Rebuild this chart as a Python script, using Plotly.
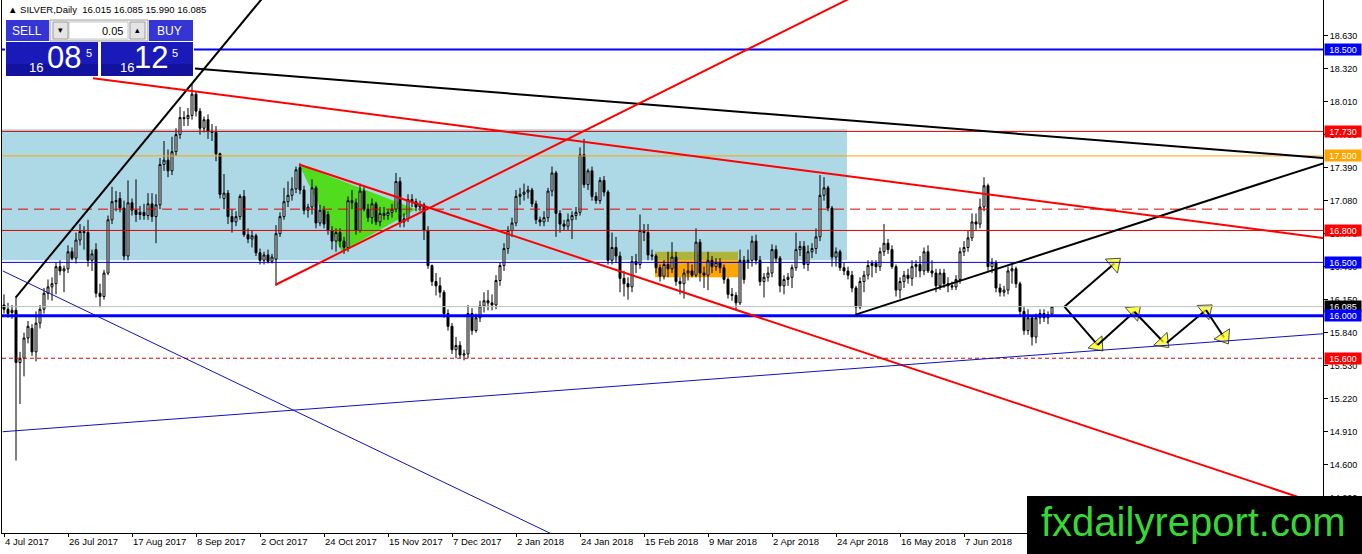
import plotly.graph_objects as go

# ---------------- data ----------------
opens = [
 16.10,16.06,16.03,16.05,15.56,15.60,15.79,15.88,15.66,15.93,
 16.06,16.21,16.27,16.30,16.46,16.42,16.44,16.60,16.54,16.71,
 16.79,16.78,16.52,16.62,16.21,16.18,16.40,16.90,17.07,17.10,
 17.01,16.56,17.06,16.99,16.95,16.97,16.94,17.05,16.93,17.04,
 17.42,17.46,17.36,17.54,17.70,17.86,17.85,17.88,18.08,17.92,
 17.76,17.84,17.73,17.72,17.52,17.10,17.15,16.93,16.88,16.93,
 17.12,16.76,16.72,16.75,16.59,16.52,16.57,16.51,16.53,16.77,
 16.93,17.07,17.13,17.19,17.39,17.18,16.99,17.02,17.20,16.87,
 16.99,16.95,16.80,16.70,16.78,16.70,16.64,17.08,17.06,16.80,
 17.17,17.00,16.92,17.05,16.88,16.96,16.94,16.97,17.00,17.26,
 16.88,16.91,17.09,17.07,17.02,17.04,16.80,16.47,16.32,16.28,
 16.22,16.02,15.90,15.68,15.72,15.63,15.64,16.02,15.86,15.98,
 16.09,16.14,16.12,16.10,16.33,16.47,16.63,16.80,16.87,17.12,
 17.14,17.16,17.18,17.05,16.90,16.88,16.92,17.17,17.34,16.96,
 16.86,16.84,16.90,16.94,16.97,17.51,17.23,17.36,17.12,17.08,
 17.27,17.16,16.52,16.64,16.56,16.35,16.30,16.27,16.51,16.48,
 16.80,16.78,16.57,16.56,16.45,16.37,16.48,16.44,16.55,16.32,
 16.30,16.40,16.42,16.38,16.69,16.40,16.38,16.52,16.46,16.50,
 16.45,16.34,16.20,16.19,16.12,16.52,16.50,16.52,16.70,16.52,
 16.32,16.36,16.40,16.62,16.54,16.28,16.34,16.36,16.45,16.62,
 16.65,16.48,16.60,16.63,16.74,17.13,17.20,17.01,16.55,16.60,
 16.45,16.42,16.38,16.26,16.08,16.32,16.38,16.47,16.49,16.46,
 16.60,16.68,16.62,16.46,16.24,16.32,16.38,16.35,16.46,16.48,
 16.42,16.60,16.42,16.40,16.28,16.40,16.30,16.28,16.27,16.34,
 16.60,16.64,16.73,16.88,16.86,17.02,17.22,16.46,16.50,16.26,
 16.22,16.24,16.42,16.44,16.30,16.04,15.86,15.98,15.80,15.98,
 16.02,15.98,16.015]
highs = [
 16.20,16.12,16.10,16.17,15.66,15.84,15.95,15.92,16.04,16.10,
 16.26,16.34,16.36,16.50,16.52,16.47,16.66,16.64,16.78,16.86,
 16.84,16.90,16.62,16.68,16.30,16.43,16.94,17.21,17.17,17.16,
 17.08,17.27,17.10,17.28,17.03,17.05,17.15,17.15,17.14,17.48,
 17.64,17.56,17.68,17.76,17.96,17.92,17.95,18.18,18.10,17.95,
 17.87,17.89,17.80,17.78,17.53,17.33,17.18,17.00,16.98,17.14,
 17.18,16.82,16.80,16.77,16.63,16.60,16.62,16.58,16.85,16.97,
 17.20,17.26,17.30,17.40,17.43,17.22,17.05,17.28,17.22,17.04,
 17.03,16.98,16.84,16.82,16.82,16.74,17.12,17.18,17.10,17.24,
 17.21,17.05,17.10,17.07,17.02,17.02,17.00,17.05,17.34,17.30,
 16.96,17.14,17.14,17.10,17.08,17.06,16.84,16.48,16.40,16.36,
 16.24,16.06,15.93,15.80,15.76,15.68,16.10,16.07,16.02,16.14,
 16.22,16.24,16.20,16.38,16.50,16.68,16.84,16.92,17.18,17.20,
 17.24,17.22,17.20,17.08,16.93,16.98,17.20,17.40,17.36,16.99,
 16.90,16.96,16.98,17.02,17.58,17.66,17.38,17.40,17.16,17.30,
 17.31,17.18,16.78,16.74,16.60,16.42,16.36,16.56,16.58,16.95,
 16.86,16.86,16.62,16.58,16.48,16.52,16.60,16.69,16.60,16.36,
 16.44,16.50,16.48,16.82,16.72,16.46,16.60,16.56,16.54,16.54,
 16.48,16.36,16.26,16.22,16.62,16.56,16.62,16.75,16.76,16.56,
 16.40,16.46,16.67,16.66,16.56,16.38,16.40,16.48,16.78,16.70,
 16.70,16.66,16.68,16.82,17.32,17.30,17.22,17.03,16.64,16.62,
 16.50,16.46,16.42,16.28,16.36,16.42,16.52,16.52,16.52,16.64,
 16.86,16.72,16.66,16.48,16.36,16.42,16.44,16.52,16.52,16.56,
 16.64,16.66,16.52,16.44,16.44,16.44,16.36,16.32,16.38,16.64,
 16.70,16.80,16.96,16.96,17.10,17.30,17.24,16.54,16.52,16.30,
 16.28,16.46,16.50,16.46,16.32,16.08,16.06,16.00,16.02,16.06,
 16.06,16.04,16.085]
lows = [
 16.02,15.98,15.97,14.64,15.17,15.43,15.74,15.62,15.57,15.88,
 16.02,16.15,16.14,16.20,16.38,16.22,16.40,16.52,16.49,16.66,
 16.62,16.46,16.42,16.17,16.08,16.15,16.38,16.86,16.98,16.97,
 16.52,16.52,16.94,16.88,16.90,16.90,16.90,16.88,16.68,17.00,
 17.36,17.30,17.32,17.50,17.66,17.78,17.78,17.84,17.87,17.70,
 17.72,17.66,17.64,17.45,17.10,17.00,16.86,16.78,16.84,16.90,
 16.74,16.68,16.64,16.56,16.48,16.48,16.49,16.49,16.28,16.74,
 16.90,17.02,17.08,17.15,17.14,16.95,16.92,16.95,16.82,16.84,
 16.82,16.76,16.62,16.60,16.64,16.58,16.60,17.00,16.76,16.78,
 16.98,16.88,16.86,16.85,16.84,16.90,16.90,16.92,16.97,16.83,
 16.83,16.88,17.02,16.98,16.98,16.71,16.44,16.28,16.19,16.17,
 15.98,15.86,15.64,15.60,15.60,15.58,15.60,15.82,15.84,15.94,
 16.03,16.05,16.05,16.06,16.28,16.42,16.58,16.74,16.84,17.04,
 17.08,17.10,17.02,16.86,16.84,16.84,16.88,17.12,16.74,16.78,
 16.80,16.80,16.72,16.90,16.94,17.20,17.18,17.08,17.05,17.05,
 17.12,16.48,16.48,16.50,16.22,16.18,16.15,16.22,16.40,16.44,
 16.70,16.52,16.52,16.40,16.32,16.34,16.36,16.40,16.28,16.20,
 16.16,16.33,16.36,16.36,16.32,16.26,16.24,16.40,16.42,16.40,
 16.30,16.16,16.14,16.06,16.10,16.30,16.44,16.46,16.48,16.28,
 16.17,16.32,16.36,16.50,16.22,16.20,16.28,16.26,16.42,16.56,
 16.44,16.42,16.54,16.58,16.70,17.08,16.98,16.46,16.46,16.42,
 16.38,16.34,16.22,15.99,16.06,16.22,16.34,16.36,16.40,16.42,
 16.56,16.58,16.44,16.18,16.16,16.26,16.30,16.28,16.36,16.36,
 16.38,16.40,16.36,16.22,16.24,16.26,16.22,16.24,16.24,16.30,
 16.56,16.60,16.70,16.80,16.82,16.98,16.42,16.40,16.22,16.18,
 16.18,16.20,16.30,16.26,16.00,15.82,15.82,15.72,15.74,15.92,
 15.94,15.92,15.990]
closes = [
 16.06,16.02,16.05,15.56,15.60,15.79,15.90,15.66,15.93,16.06,
 16.21,16.27,16.30,16.46,16.42,16.44,16.60,16.54,16.71,16.79,
 16.78,16.52,16.58,16.21,16.18,16.40,16.90,17.07,17.08,17.01,
 16.56,17.06,16.99,16.95,16.97,16.94,17.05,16.93,17.04,17.42,
 17.46,17.36,17.54,17.70,17.86,17.85,17.88,18.08,17.92,17.76,
 17.84,17.73,17.72,17.52,17.14,17.15,16.93,16.88,16.93,17.12,
 16.76,16.72,16.75,16.59,16.52,16.57,16.51,16.55,16.77,16.93,
 17.07,17.13,17.19,17.37,17.18,16.99,17.02,17.20,16.87,16.99,
 16.86,16.80,16.70,16.78,16.70,16.64,17.08,17.06,16.80,17.17,
 17.00,16.92,17.05,16.88,16.96,16.94,16.97,17.00,17.26,16.88,
 16.91,17.09,17.07,17.02,17.04,16.80,16.47,16.32,16.28,16.22,
 16.02,15.90,15.68,15.72,15.63,15.64,16.02,15.86,15.98,16.09,
 16.14,16.12,16.10,16.33,16.47,16.63,16.80,16.87,17.12,17.14,
 17.16,17.18,17.05,16.90,16.88,16.92,17.17,17.34,16.96,16.86,
 16.84,16.90,16.94,16.97,17.51,17.23,17.36,17.12,17.08,17.27,
 17.16,16.52,16.64,16.56,16.35,16.30,16.27,16.51,16.48,16.80,
 16.78,16.57,16.56,16.45,16.37,16.48,16.44,16.55,16.32,16.30,
 16.40,16.42,16.38,16.69,16.40,16.38,16.52,16.46,16.50,16.45,
 16.34,16.20,16.19,16.12,16.52,16.34,16.52,16.70,16.52,16.32,
 16.36,16.40,16.62,16.54,16.28,16.34,16.36,16.45,16.62,16.65,
 16.48,16.60,16.63,16.74,17.13,17.20,17.01,16.55,16.60,16.45,
 16.42,16.38,16.26,16.08,16.32,16.38,16.47,16.49,16.46,16.60,
 16.68,16.62,16.46,16.24,16.32,16.38,16.35,16.46,16.48,16.42,
 16.60,16.42,16.40,16.28,16.40,16.30,16.28,16.27,16.34,16.60,
 16.64,16.73,16.88,16.86,17.02,17.22,16.46,16.50,16.26,16.22,
 16.24,16.42,16.44,16.30,16.04,15.86,15.98,15.80,15.98,16.02,
 15.98,16.01,16.085]
bars = list(range(len(closes)))

tick_bars = [0, 16, 32, 48, 64, 80, 96, 112, 128, 144, 160, 176, 192, 208, 224, 240]
tick_labels = ["4 Jul 2017", "26 Jul 2017", "17 Aug 2017", "8 Sep 2017", "2 Oct 2017",
               "24 Oct 2017", "15 Nov 2017", "7 Dec 2017", "2 Jan 2018", "24 Jan 2018",
               "15 Feb 2018", "9 Mar 2018", "2 Apr 2018", "24 Apr 2018", "16 May 2018",
               "7 Jun 2018"]
price_ticks = [14.290, 14.600, 14.910, 15.220, 15.530, 15.840, 16.150, 16.460,
               16.770, 17.080, 17.390, 17.700, 18.010, 18.320, 18.630]

# horizontal levels
level_prices = [18.500, 17.730, 17.500, 17.000, 16.800, 16.500, 16.085, 16.000, 15.600]
labeled_levels = [18.500, 17.730, 17.500, 16.800, 16.500, 16.085, 16.000, 15.600]

# trend lines: start bar, start price, end bar, end price
trend_bar0 = [2.9, 47.75, 212.9, 22.25, 67.9, 73.75, -0.33, -0.33]
trend_p0 = [16.17, 18.32, 16.01, 18.23, 16.29, 17.42, 16.42, 14.91]
trend_bar1 = [71.6, 329.75, 329.75, 329.75, 228.6, 329.75, 139.7, 329.75]
trend_p1 = [19.30, 17.48, 17.43, 16.73, 19.30, 14.22, 13.90, 15.83]

# zones
zone_bars = [-5, 210.75]
zone_prices = [16.52, 17.75]
triangle_bars = [73.75, 84.4, 103.0]
triangle_prices = [17.42, 16.60, 17.00]
box_bars = [162.75, 183.5]
box_prices = [16.36, 16.52, 16.60]

# forecast zig-zag arrows (start/end bar & price)
arrow_bar0 = [265.1, 265.1, 273.4, 282.6, 290.7, 300.5]
arrow_p0 = [16.084, 16.084, 15.725, 16.037, 15.746, 16.053]
arrow_bar1 = [277.6, 273.4, 282.6, 289.8, 300.5, 305.0]
arrow_p1 = [16.49, 15.725, 16.037, 15.755, 16.053, 15.797]

# ---------------- styles ----------------
FONT = "Liberation Sans, Arial, sans-serif"
L, T, PW, PH = 2, 0, 1321, 533


def pp(x, y):
    return (x - L) / PW, 1 - (y - T) / PH


level_style = {
    18.500: dict(color="#0000FF", width=2, dash="solid"),
    17.730: dict(color="#E00000", width=1, dash="solid"),
    17.500: dict(color="#FFA500", width=1, dash="solid"),
    17.000: dict(color="#E00000", width=1, dash="10px,6px"),
    16.800: dict(color="#E00000", width=1, dash="solid"),
    16.500: dict(color="#0000FF", width=1, dash="solid"),
    16.085: dict(color="#C0C0C0", width=1, dash="solid"),
    16.000: dict(color="#0000FF", width=3, dash="solid"),
    15.600: dict(color="#E00000", width=1, dash="4px,3px"),
}
label_bg = {18.500: "#0000FF", 17.730: "#FF0000", 17.500: "#FFA500", 16.800: "#FF0000",
            16.500: "#0000FF", 16.085: "#000000", 16.000: "#0000FF", 15.600: "#FF0000"}
trend_style = [("#000000", 2), ("#000000", 2), ("#000000", 2), ("#FF0000", 2),
               ("#FF0000", 2), ("#FF0000", 2), ("#1010C0", 1), ("#1010C0", 1)]

fig = go.Figure()

fig.add_trace(go.Candlestick(
    x=bars, open=opens, high=highs, low=lows, close=closes,
    increasing=dict(line=dict(color="black", width=1), fillcolor="white"),
    decreasing=dict(line=dict(color="black", width=1), fillcolor="black"),
    whiskerwidth=0, showlegend=False, hoverinfo="skip"))

for b0, p0, b1, p1 in zip(arrow_bar0, arrow_p0, arrow_bar1, arrow_p1):
    fig.add_trace(go.Scatter(
        x=[b0, b1], y=[p0, p1], mode="lines+markers",
        line=dict(color="black", width=2),
        marker=dict(symbol="triangle-up", size=[0, 16], color="#FFFF00",
                    line=dict(color="black", width=1), angleref="previous"),
        showlegend=False, hoverinfo="skip"))

shapes = []
# background zones
shapes.append(dict(type="rect", xref="x", yref="y", x0=zone_bars[0], x1=zone_bars[1],
                   y0=zone_prices[0], y1=zone_prices[1], fillcolor="#ADD8E6",
                   line=dict(width=0), layer="below"))
tri = "M {} {} L {} {} L {} {} Z".format(triangle_bars[0], triangle_prices[0],
                                         triangle_bars[1], triangle_prices[1],
                                         triangle_bars[2], triangle_prices[2])
shapes.append(dict(type="path", xref="x", yref="y", path=tri, fillcolor="#52DC1E",
                   line=dict(width=0), layer="below"))
shapes.append(dict(type="rect", xref="x", yref="y", x0=box_bars[0], x1=box_bars[1],
                   y0=box_prices[1], y1=box_prices[2], fillcolor="#AEB43A",
                   line=dict(width=0), layer="below"))
shapes.append(dict(type="rect", xref="x", yref="y", x0=box_bars[0], x1=box_bars[1],
                   y0=box_prices[0], y1=box_prices[1], fillcolor="#FFA500",
                   line=dict(width=0), layer="below"))

# horizontal levels
for p in level_prices:
    st = level_style[p]
    shapes.append(dict(type="line", xref="paper", yref="y", x0=0, x1=1, y0=p, y1=p,
                       line=dict(color=st["color"], width=st["width"], dash=st["dash"]),
                       layer="above"))

# trend lines
for (b0, p0, b1, p1), (c, w) in zip(zip(trend_bar0, trend_p0, trend_bar1, trend_p1), trend_style):
    shapes.append(dict(type="line", xref="x", yref="y", x0=b0, y0=p0, x1=b1, y1=p1,
                       line=dict(color=c, width=w), layer="above"))


def prect(x0, y0, x1, y1, fill, line_color=None, lw=0):
    a0, b0 = pp(x0, y1)
    a1, b1 = pp(x1, y0)
    return dict(type="rect", xref="paper", yref="paper", x0=a0, y0=b0, x1=a1, y1=b1,
                fillcolor=fill, line=dict(color=line_color or fill, width=lw), layer="above")


# trading panel
shapes += [
    prect(5, 19, 194, 77, "#FFFFFF"),
    prect(6, 20, 49, 41, "#3535D6"),
    prect(50, 20, 148, 41, "#F0F0F0", "#A0A0A0", 1),
    prect(69, 22, 128, 39, "#FFFFFF", "#C8C8C8", 1),
    prect(53, 22, 68, 39, "#E4E4E4", "#A0A0A0", 1),
    prect(130, 22, 145, 39, "#E4E4E4", "#A0A0A0", 1),
    prect(149, 20, 193, 41, "#3535D6"),
    prect(6, 42, 98, 76, "#1A1AB8"),
    prect(101, 42, 193, 76, "#1A1AB8"),
    prect(6, 64, 98, 76, "#12129E"),
    prect(101, 64, 193, 76, "#12129E"),
]
# watermark
shapes.append(prect(1027, 496, 1362, 554, "#000000"))

annotations = []


def ptext(x, y, text, size, color, xanchor="center", yanchor="middle", family=FONT):
    a, b = pp(x, y)
    annotations.append(dict(xref="paper", yref="paper", x=a, y=b, text=text,
                            showarrow=False, xanchor=xanchor, yanchor=yanchor,
                            font=dict(family=family, size=size, color=color)))


ptext(6, 9, "\u25B2 SILVER,Daily  {:.3f} {:.3f} {:.3f} {:.3f}".format(
    opens[-1], highs[-1], lows[-1], closes[-1]), 9.5, "black", xanchor="left")
ptext(27, 31, "SELL", 12, "white")
ptext(169, 31, "BUY", 12, "white")
ptext(125, 31, "0.05", 11, "black", xanchor="right")
ptext(60.5, 30.5, "\u25BE", 9, "black")
ptext(137.5, 30.5, "\u25B4", 9, "black")
ptext(35.5, 67, "16", 13, "white")
ptext(64, 58, "08", 31, "white")
ptext(88.5, 53, "5", 11, "white")
ptext(127, 67, "16", 13, "white")
ptext(151, 58, "12", 31, "white")
ptext(175, 53, "5", 11, "white")
ptext(1193, 522, "fxdailyreport.com", 40, "#37D737")

for p in labeled_levels:
    annotations.append(dict(xref="paper", yref="y", x=1, y=p, xanchor="left",
                            yanchor="middle", xshift=1, text="{:.3f}".format(p),
                            showarrow=False, bgcolor=label_bg[p], width=36, height=11,
                            borderpad=0, align="center",
                            font=dict(family=FONT, size=9, color="white")))

fig.update_layout(
    width=1362, height=554, autosize=False,
    margin=dict(l=L, r=1362 - L - PW, t=T, b=554 - T - PH),
    paper_bgcolor="white", plot_bgcolor="white",
    showlegend=False, shapes=shapes, annotations=annotations,
    font=dict(family=FONT, size=9, color="black"),
    xaxis=dict(range=[-0.5, 329.75], showgrid=False, zeroline=False,
               rangeslider=dict(visible=False), tickmode="array",
               tickvals=tick_bars, ticktext=tick_labels, ticks="outside",
               ticklen=3, tickcolor="black", showline=True, linecolor="black",
               linewidth=1, ticklabelposition="outside right",
               tickfont=dict(family=FONT, size=9.5, color="black")),
    yaxis=dict(range=[13.959, 18.964], side="right", showgrid=False, zeroline=False,
               tickmode="array", tickvals=price_ticks, tickformat=".3f",
               ticks="outside", ticklen=4, tickcolor="black", showline=True,
               linecolor="black", linewidth=1, mirror=True,
               tickfont=dict(family=FONT, size=9, color="black")),
)

fig.write_html("out.html", config={"displayModeBar": False},
               post_script="document.body.style.margin='0px';document.body.style.padding='0px';")
